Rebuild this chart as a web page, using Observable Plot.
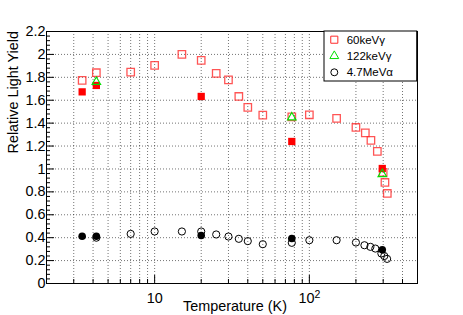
<!DOCTYPE html>
<html><head><meta charset="utf-8">
<script src="https://cdn.jsdelivr.net/npm/d3@7"></script>
<script src="https://cdn.jsdelivr.net/npm/@observablehq/plot@0.6"></script>
<style>body{margin:0;background:#fff} svg{display:block}</style>
</head><body><div id="chart"></div>
<script>
const seriesNames = ["60keVγ", "122keVγ", "4.7MeVα"];
const xTitle = "Temperature (K)";
const yTitle = "Relative Light Yield";

// 60 keV gamma, open squares
const g60OpenT = [3.4, 4.2, 7, 10, 15, 20, 25, 30, 35, 40, 50, 77, 100, 150, 200, 230, 250, 275, 300, 308, 319];
const g60OpenY = [1.773, 1.84, 1.845, 1.904, 2.0, 1.948, 1.834, 1.778, 1.633, 1.537, 1.47, 1.455, 1.473, 1.441, 1.362, 1.315, 1.249, 1.153, 0.97, 0.882, 0.786];
// 60 keV gamma, filled squares
const g60FillT = [3.4, 4.2, 20, 77, 296];
const g60FillY = [1.673, 1.729, 1.633, 1.24, 1.004];
// 122 keV gamma, triangles
const g122T = [4.2, 77, 296];
const g122Y = [1.76, 1.45, 0.955];
// 4.7 MeV alpha, open circles
const aOpenT = [4.2, 7, 10, 15, 20, 25, 30, 35, 40, 50, 77, 100, 150, 200, 227, 248, 267, 292, 305, 318];
const aOpenY = [0.40, 0.433, 0.454, 0.454, 0.454, 0.428, 0.41, 0.39, 0.37, 0.343, 0.355, 0.378, 0.378, 0.358, 0.334, 0.32, 0.305, 0.262, 0.24, 0.215];
// 4.7 MeV alpha, filled circles
const aFillT = [3.4, 4.2, 20, 77, 296];
const aFillY = [0.413, 0.413, 0.419, 0.393, 0.295];

const xGrid = [3, 4, 5, 6, 7, 8, 9, 10, 20, 30, 40, 50, 60, 70, 80, 90, 100, 200, 300, 400];
const xMajor = [10, 100];
const xMajorLabels = ["10", "10^2"];
const yMajor = [0, 0.2, 0.4, 0.6, 0.8, 1, 1.2, 1.4, 1.6, 1.8, 2, 2.2];
const yMajorLabels = ["0", "0.2", "0.4", "0.6", "0.8", "1", "1.2", "1.4", "1.6", "1.8", "2", "2.2"];
const yMinor = yMajor.slice(0, -1).flatMap(v => [1, 2, 3, 4].map(k => +(v + k * 0.04).toFixed(2)));
const xMinor = xGrid.filter(v => !xMajor.includes(v));

const pts = (xs, ys) => xs.map((x, i) => ({x, y: ys[i]}));
const font = "'Liberation Sans', Arial, Helvetica, sans-serif";
const gridStyle = {stroke: "#000", strokeOpacity: 0.55, strokeDasharray: "1,2"};

const chart = Plot.plot({
  width: 463, height: 315,
  marginLeft: 46, marginRight: 46, marginTop: 31, marginBottom: 32,
  style: {fontFamily: font, fontSize: "14.4px", background: "white", color: "#000", overflow: "visible"},
  x: {type: "log", domain: [2, 500]},
  y: {domain: [0, 2.2]},
  marks: [
    Plot.gridX(xGrid, gridStyle),
    Plot.gridY(yMajor.slice(1, -1), gridStyle),
    Plot.axisY(yMajor, {tickSize: 0, tickPadding: 1, tickFormat: d => yMajorLabels[yMajor.indexOf(d)], label: null, fontSize: 14.4}),
    Plot.axisY(yMajor, {tickSize: -8, tickFormat: () => "", label: null}),
    Plot.axisY(yMinor, {tickSize: -4, tickFormat: () => "", label: null}),
    Plot.axisX(xMajor, {tickSize: 0, tickPadding: 9, tickFormat: d => xMajorLabels[xMajor.indexOf(d)], label: null, fontSize: 14.4}),
    Plot.axisX(xMajor, {tickSize: -8, tickFormat: () => "", label: null}),
    Plot.axisX(xMinor, {tickSize: -4, tickFormat: () => "", label: null}),
    Plot.frame({stroke: "#000", strokeWidth: 1}),
    Plot.dot(pts(g60OpenT, g60OpenY), {x: "x", y: "y", symbol: "square", r: 4.2, stroke: "#ff2a2a", strokeOpacity: 0.8, strokeWidth: 1.3, fill: "none"}),
    Plot.dot(pts(g60FillT, g60FillY), {x: "x", y: "y", symbol: "square", r: 4.1, fill: "#ff0000", stroke: "none"}),
    Plot.dot(pts(g122T, g122Y), {x: "x", y: "y", symbol: "triangle", r: 3.2, stroke: "#00e000", strokeWidth: 1.1, fill: "none"}),
    Plot.dot(pts(aOpenT, aOpenY), {x: "x", y: "y", symbol: "circle", r: 3.6, stroke: "#000", strokeWidth: 1, fill: "none"}),
    Plot.dot(pts(aFillT, aFillY), {x: "x", y: "y", symbol: "circle", r: 3.8, fill: "#000", stroke: "none"}),
    Plot.text([xTitle], {frameAnchor: "bottom", lineAnchor: "top", dy: 17.5, dx: 3, fontSize: 14.4, fill: "#000"}),
    Plot.text([yTitle], {frameAnchor: "left", rotate: -90, dx: -33, dy: -4, fontSize: 14.4, fill: "#000"})
  ]
});
document.getElementById("chart").appendChild(chart);

const svg = d3.select(chart);
// superscript exponent in "10^2"
svg.selectAll("text").each(function() {
  const t = d3.select(this);
  if (t.selectAll("tspan").empty() && t.text().includes("^")) {
    const [base, exp] = t.text().split("^");
    t.text(base);
    t.append("tspan").attr("dy", "-0.45em").attr("font-size", "10.5px").text(exp);
  }
});

// legend box
const lg = svg.append("g").attr("font-family", font).attr("font-size", 11.5).attr("text-anchor", "start");
lg.append("rect").attr("x", 324).attr("y", 31).attr("width", 92.7).attr("height", 50)
  .attr("fill", "white").attr("stroke", "#000").attr("stroke-width", 1);
const legendSymbols = [
  {sym: d3.symbolSquare, size: 50, stroke: "#ff2a2a"},
  {sym: d3.symbolTriangle, size: 34, stroke: "#00e000"},
  {sym: d3.symbolCircle, size: 38, stroke: "#000"}
];
seriesNames.forEach((name, i) => {
  const cy = 39.7 + i * 16.3;
  lg.append("path").attr("d", d3.symbol(legendSymbols[i].sym, legendSymbols[i].size)())
    .attr("transform", `translate(334.3,${cy})`).attr("fill", "none")
    .attr("stroke", legendSymbols[i].stroke).attr("stroke-width", 1);
  lg.append("text").attr("x", 346.7).attr("y", cy).attr("dy", "0.35em").attr("fill", "#000").text(name);
});
</script>
</body></html>
